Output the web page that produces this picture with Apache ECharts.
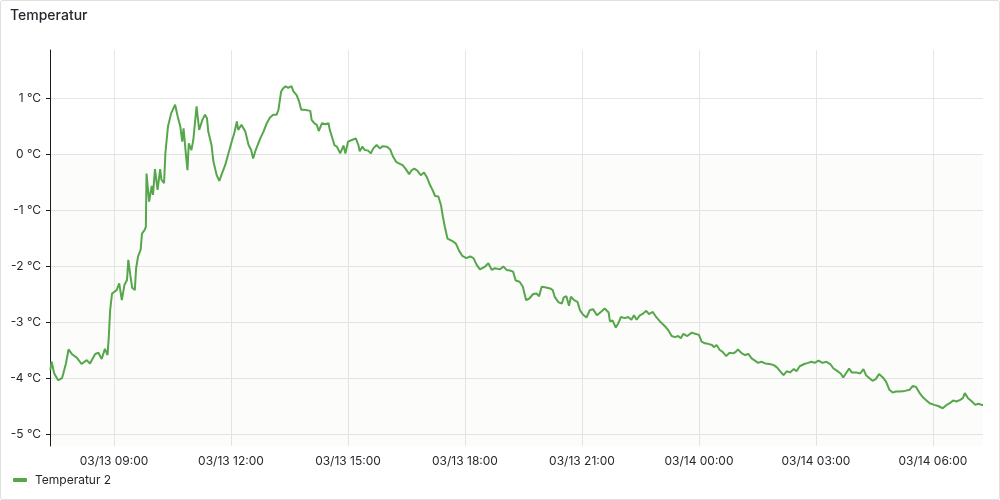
<!DOCTYPE html>
<html>
<head>
<meta charset="utf-8">
<title>Temperatur</title>
<script src="https://cdn.jsdelivr.net/npm/echarts@6/dist/echarts.min.js"></script>
<style>
    html, body { margin: 0; padding: 0; background: #fff; }
    #chart { width: 1000px; height: 500px; }
    .frame {
        position: absolute; left: 0; top: 0;
        width: 1000px; height: 500px;
        box-sizing: border-box;
        border: 1px solid #dfdfdf;
        border-radius: 3px;
        pointer-events: none;
    }
</style>
</head>
<body>
<div id="chart"></div>
<div class="frame"></div>
<script>
    // minutes after 03/13 07:00
    var minutes = [
        22,24,28,34,40,42,46,50,55,63,70,78,83,91,96,101,106,110,112,114,
        117,124,128,132,136,140,142,145,148,152,154,157,161,163,167,169,170,174,178,180,
        183,187,191,193,197,199,203,208,214,218,222,225,227,230,233,235,239,242,247,251,
        256,260,
        263,265,270,273,278,282,286,291,296,301,305,309,311,316,322,327,331,334,338,345,
        350,355,360,365,370,373,377,380,384,388,393,396,401,405,408,413,416,422,424,428,
        432,435,440,445,450,452,456,459,463,468,473,476,480,486,492,496,498,502,506,
        511,515,519,524,529,533,540,545,549,554,559,564,569,574,578,582,587,592,597,602,
        606,610,614,619,623,626,629,633,640,646,651,656,662,668,673,678,683,691,696,701,
        706,
        714,719,724,729,734,738,744,749,754,759,765,770,774,778,783,791,795,798,804,809,
        812,816,820,823,828,833,837,841,847,852,857,863,869,875,881,883,887,892,896,900,
        906,911,916,920,924,929,934,939,943,949,954,960,
        968,973,978,983,988,992,996,1002,1009,1014,1020,1024,1029,1034,1040,1043,1047,1052,1056,1062,
        1067,1073,1077,1080,1086,1091,1096,1101,1106,1111,1116,1122,1129,1135,1140,1145,1150,1155,1160,1166,
        1170,1175,1182,1188,1193,1198,1204,1210,1216,1222,1227,1231,1234,1238,1242,1246,1251,1255,1262,1268,
        1273,1277,1282,1287,1292,1297,1303,1308,1313,1318,1323,1329,1337,1344,1349,1354,1359,1365,1370,1375,
        1382,1388,1395,1401,1406,1411,1416,1422,1426,1429,1434,1440,1445,1450,1455,1457
    ];
    var temps = [
        -3.86,-3.71,-3.92,-4.04,-4.00,-3.92,-3.74,-3.49,-3.57,-3.64,-3.75,-3.68,-3.74,-3.57,-3.55,-3.66,-3.48,-3.59,-3.26,-2.79,
        -2.49,-2.43,-2.31,-2.61,-2.34,-2.25,-1.89,-2.16,-2.39,-2.43,-2.04,-1.83,-1.71,-1.42,-1.36,-1.30,-0.35,-0.85,-0.57,-0.73,
        -0.27,-0.64,-0.27,-0.46,-0.52,0.01,0.49,0.73,0.88,0.67,0.49,0.22,0.46,0.07,-0.29,0.19,0.07,0.25,0.85,0.43,
        0.61,0.70,
        0.64,0.40,0.16,-0.14,-0.38,-0.48,-0.35,-0.20,0.01,0.22,0.37,0.58,0.43,0.52,0.40,0.16,0.07,-0.08,0.07,0.28,
        0.40,0.55,0.65,0.70,0.70,0.79,1.11,1.17,1.21,1.18,1.21,1.12,1.05,0.93,0.79,0.79,0.76,0.77,0.61,0.55,
        0.52,0.41,0.55,0.53,0.55,0.43,0.28,0.16,0.13,0.01,0.15,0.01,0.22,0.25,0.28,0.16,0.05,0.13,0.07,
        0.06,0.01,0.10,0.16,0.10,0.14,0.13,0.08,-0.04,-0.14,-0.17,-0.20,-0.27,-0.36,-0.29,-0.26,-0.30,-0.38,-0.33,-0.43,
        -0.55,-0.64,-0.75,-0.76,-0.91,-1.12,-1.30,-1.51,-1.55,-1.60,-1.73,-1.82,-1.86,-1.83,-1.86,-1.98,-2.06,-2.01,-1.95,-2.07,
        -2.04,
        -2.06,-2.01,-2.07,-2.08,-2.10,-2.26,-2.28,-2.37,-2.61,-2.58,-2.50,-2.49,-2.54,-2.37,-2.38,-2.40,-2.43,-2.55,-2.65,-2.67,
        -2.56,-2.54,-2.71,-2.55,-2.61,-2.64,-2.79,-2.86,-2.92,-2.79,-2.77,-2.88,-2.82,-2.76,-2.83,-2.99,-2.97,-3.10,-3.02,-2.91,
        -2.93,-2.91,-2.96,-2.88,-2.96,-2.88,-2.85,-2.80,-2.86,-2.82,-2.91,-2.99,
        -3.08,-3.15,-3.25,-3.27,-3.25,-3.29,-3.21,-3.25,-3.19,-3.21,-3.23,-3.35,-3.38,-3.39,-3.41,-3.45,-3.41,-3.50,-3.53,-3.61,
        -3.55,-3.56,-3.53,-3.49,-3.56,-3.59,-3.57,-3.65,-3.69,-3.73,-3.71,-3.74,-3.75,-3.77,-3.81,-3.88,-3.95,-3.88,-3.90,-3.84,
        -3.88,-3.79,-3.75,-3.73,-3.71,-3.73,-3.69,-3.73,-3.71,-3.75,-3.83,-3.86,-3.88,-3.92,-3.99,-3.92,-3.83,-3.90,-3.90,-3.92,
        -3.84,-3.95,-4.00,-4.05,-4.02,-3.93,-3.99,-4.07,-4.21,-4.26,-4.24,-4.24,-4.23,-4.21,-4.14,-4.16,-4.26,-4.35,-4.40,-4.45,
        -4.48,-4.50,-4.54,-4.48,-4.45,-4.40,-4.42,-4.39,-4.36,-4.27,-4.36,-4.42,-4.48,-4.46,-4.48,-4.48
    ];
    var xTicks = [120, 300, 480, 660, 840, 1020, 1200, 1380];
    var yTicks = [-5, -4, -3, -2, -1, 0, 1];
    var xStartMin = 21.5, xEndMin = 1457;
    var yMin = -5.214, yMax = 1.857;
    var threshold = 0;

    var base = new Date(2024, 2, 13, 7, 0, 0).getTime();
    function pad(n) { return n < 10 ? '0' + n : '' + n; }
    function fmtTime(m) {
        var d = new Date(base + m * 60000);
        return pad(d.getMonth() + 1) + '/' + pad(d.getDate()) + ' ' + pad(d.getHours()) + ':' + pad(d.getMinutes());
    }

    var seriesData = [];
    for (var i = 0; i < minutes.length; i++) {
        seriesData.push([minutes[i], temps[i]]);
    }

    var textColor = '#24292e';
    var gridColor = '#e6e6e6';
    var font = 'Inter, "Noto Sans", sans-serif';

    var myChart = echarts.init(document.getElementById('chart'));
    var option = {
        animation: false,
        textStyle: { fontFamily: font },
        title: {
            text: 'Temperatur',
            left: 10,
            top: 9,
            padding: 0,
            textStyle: { fontSize: 14, fontWeight: 500, color: textColor, fontFamily: font }
        },
        legend: {
            left: 13,
            top: 474,
            padding: 0,
            icon: 'roundRect',
            itemWidth: 14,
            itemHeight: 4,
            itemGap: 8,
            textStyle: { fontSize: 12, color: textColor, fontFamily: font, padding: [0, 0, 0, 3] },
            data: ['Temperatur 2']
        },
        grid: { left: 50, right: 17, top: 50, bottom: 54 },
        xAxis: {
            type: 'value',
            min: xStartMin,
            max: xEndMin,
            axisLine: { show: false },
            axisTick: {
                show: true,
                length: 4,
                customValues: xTicks,
                lineStyle: { color: gridColor }
            },
            axisLabel: {
                customValues: xTicks,
                margin: 9,
                fontSize: 12,
                color: textColor,
                fontFamily: font,
                formatter: function (v) { return fmtTime(v); }
            },
            splitLine: { show: true, lineStyle: { color: gridColor, width: 1 } }
        },
        yAxis: {
            type: 'value',
            min: yMin,
            max: yMax,
            axisLine: { show: true, lineStyle: { color: '#1b1b1b', width: 1 } },
            axisTick: {
                show: true,
                length: 4,
                customValues: yTicks,
                lineStyle: { color: '#1b1b1b' }
            },
            axisLabel: {
                customValues: yTicks,
                margin: 9,
                fontSize: 12,
                color: textColor,
                fontFamily: font,
                formatter: '{value} °C'
            },
            splitLine: { show: true, lineStyle: { color: gridColor, width: 1 } }
        },
        series: [
            {
                name: 'Temperatur 2',
                type: 'line',
                data: seriesData,
                showSymbol: false,
                symbol: 'none',
                color: '#56a64b',
                lineStyle: { width: 2, color: '#56a64b' },
                markArea: {
                    silent: true,
                    itemStyle: { color: 'rgba(120,110,80,0.025)' },
                    data: [[{ yAxis: threshold }, { yAxis: yMin }]]
                }
            }
        ]
    };
    myChart.setOption(option);
</script>
</body>
</html>
